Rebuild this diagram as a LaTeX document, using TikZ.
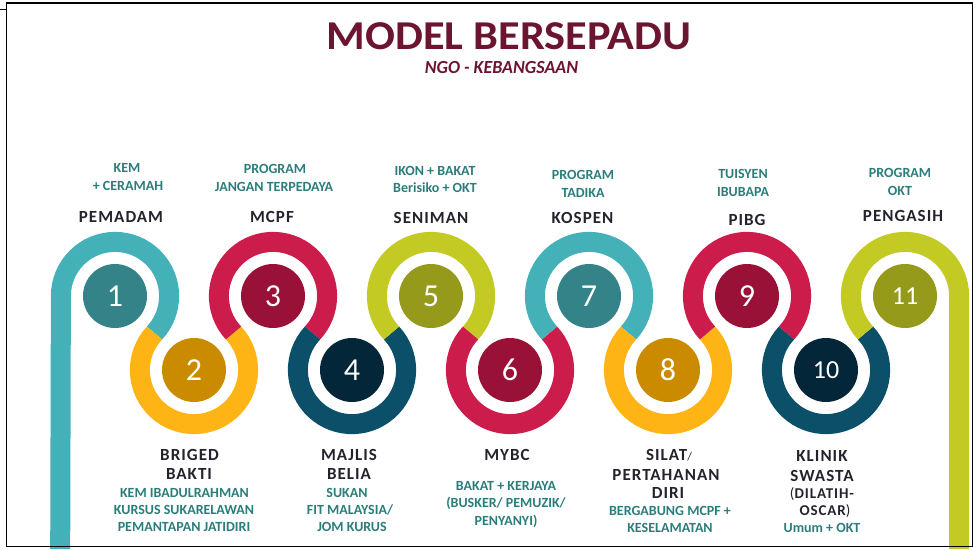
\documentclass[tikz,border=0pt]{standalone}
\usepackage{fontspec}
\setmainfont{Carlito}
\newfontfamily\hdfont[LetterSpace=6]{Carlito}
\definecolor{ringT}{HTML}{44B1B8}
\definecolor{ringY}{HTML}{FDB414}
\definecolor{ringC}{HTML}{CC1C4C}
\definecolor{ringN}{HTML}{0B4F68}
\definecolor{ringL}{HTML}{C2CA23}
\definecolor{dotT}{HTML}{338388}
\definecolor{dotY}{HTML}{CB8B00}
\definecolor{dotC}{HTML}{991137}
\definecolor{dotN}{HTML}{032638}
\definecolor{dotL}{HTML}{959A1B}
\definecolor{smtxt}{HTML}{2A7D7B}
\definecolor{hdtxt}{HTML}{23232D}
\definecolor{titlec}{HTML}{6B1530}
\begin{document}
\begin{tikzpicture}[x=1pt,y=1pt,
  ring/.style={line width=20pt,line cap=butt},
  dot/.style={circle,minimum size=64pt,inner sep=0pt,text=white,font=\fontsize{32}{32}\selectfont},
  dotsm/.style={dot,font=\fontsize{26}{26}\selectfont},
  sm/.style={anchor=base,inner sep=0pt,text=smtxt,font=\fontsize{14}{16}\selectfont\bfseries},
  hd/.style={anchor=base,inner sep=0pt,text=hdtxt,font=\hdfont\fontsize{17}{20}\selectfont\bfseries},
  hdsm/.style={anchor=base,inner sep=0pt,text=hdtxt,font=\hdfont\fontsize{15}{18}\selectfont\bfseries},
  frame/.style={line width=1.5pt,black}]
\useasboundingbox (0,0) rectangle (973,-549);
% title
\node[anchor=base,inner sep=0pt,text=titlec,font=\fontsize{41}{44}\selectfont\bfseries] (title) at (509,-49) {\scalebox{1.08}[1]{MODEL BERSEPADU}};
\node[anchor=base,inner sep=0pt,text=titlec,font=\fontsize{18.5}{22}\selectfont\bfseries\itshape] (subtitle) at (501.5,-73) {\scalebox{0.97}[1]{NGO - KEBANGSAAN}};
% centres
\foreach \k in {1,3,5,7,9,11}{\coordinate (c\k) at ({115+79*(\k-1)},-296);}
\foreach \k in {2,4,6,8,10}{\coordinate (c\k) at ({115+79*(\k-1)},-370);}
\def\R{54.12pt}
\def\t{43.13}
\coordinate (startL) at (60.2,-549);
\coordinate (endR) at (959.12,-549);
% rings
\draw[ring,ringT] (startL) -- ([shift={(180:\R)}]c1) arc[start angle=180,end angle=-\t,radius=\R];
\draw[ring,ringY] ([shift={(180-\t:\R)}]c2) arc[start angle=180-\t,end angle=360+\t,radius=\R];
\draw[ring,ringC] ([shift={(180+\t:\R)}]c3) arc[start angle=180+\t,end angle=-\t,radius=\R];
\draw[ring,ringN] ([shift={(180-\t:\R)}]c4) arc[start angle=180-\t,end angle=360+\t,radius=\R];
\draw[ring,ringL] ([shift={(180+\t:\R)}]c5) arc[start angle=180+\t,end angle=-\t,radius=\R];
\draw[ring,ringC] ([shift={(180-\t:\R)}]c6) arc[start angle=180-\t,end angle=360+\t,radius=\R];
\draw[ring,ringT] ([shift={(180+\t:\R)}]c7) arc[start angle=180+\t,end angle=-\t,radius=\R];
\draw[ring,ringY] ([shift={(180-\t:\R)}]c8) arc[start angle=180-\t,end angle=360+\t,radius=\R];
\draw[ring,ringC] ([shift={(180+\t:\R)}]c9) arc[start angle=180+\t,end angle=-\t,radius=\R];
\draw[ring,ringN] ([shift={(180-\t:\R)}]c10) arc[start angle=180-\t,end angle=360+\t,radius=\R];
\draw[ring,ringL] ([shift={(180+\t:\R)}]c11) arc[start angle=180+\t,end angle=0,radius=\R] -- (endR);
% dots
\node[dot,fill=dotT] (n1) at (c1) {1};
\node[dot,fill=dotY] (n2) at (c2) {2};
\node[dot,fill=dotC] (n3) at (c3) {3};
\node[dot,fill=dotN] (n4) at (c4) {4};
\node[dot,fill=dotL] (n5) at (c5) {5};
\node[dot,fill=dotC] (n6) at (c6) {6};
\node[dot,fill=dotT] (n7) at (c7) {7};
\node[dot,fill=dotY] (n8) at (c8) {8};
\node[dot,fill=dotC] (n9) at (c9) {9};
\node[dotsm,fill=dotN] (n10) at (c10) {10};
\node[dotsm,fill=dotL] (n11) at (c11) {11};
% top labels
\node[sm] (t1a) at (127,-172.5) {KEM};
\node[sm] (t1b) at (128,-190) {+ CERAMAH};
\node[hd] (h1) at (121,-222) {PEMADAM};
\node[sm] (t3a) at (275,-173.5) {PROGRAM};
\node[sm] (t3b) at (274,-191) {JANGAN TERPEDAYA};
\node[hd] (h3) at (272,-222) {MCPF};
\node[sm] (t5a) at (435,-175) {IKON + BAKAT};
\node[sm] (t5b) at (435,-192.5) {Berisiko + OKT};
\node[hd] (h5) at (431,-223.5) {SENIMAN};
\node[sm] (t7a) at (583,-179.5) {PROGRAM};
\node[sm] (t7b) at (583,-197) {TADIKA};
\node[hd] (h7) at (582.5,-223.5) {KOSPEN};
\node[sm] (t9a) at (743,-178.5) {TUISYEN};
\node[sm] (t9b) at (743,-196) {IBUBAPA};
\node[hd] (h9) at (747,-225) {PIBG};
\node[sm] (t11a) at (900,-177.5) {PROGRAM};
\node[sm] (t11b) at (900,-195) {OKT};
\node[hd] (h11) at (903,-221.5) {PENGASIH};
% bottom labels
\node[hd] (h2a) at (189.5,-460) {BRIGED};
\node[hd] (h2b) at (189,-479) {BAKTI};
\node[sm] (b2a) at (184.5,-497) {KEM IBADULRAHMAN};
\node[sm] (b2b) at (184,-514) {KURSUS SUKARELAWAN};
\node[sm] (b2c) at (184,-531) {PEMANTAPAN JATIDIRI};
\node[hd] (h4a) at (349,-460) {MAJLIS};
\node[hd] (h4b) at (349,-479) {BELIA};
\node[sm] (b4a) at (347,-497) {SUKAN};
\node[sm] (b4b) at (350,-514) {FIT MALAYSIA/};
\node[sm] (b4c) at (352,-531) {JOM KURUS};
\node[hd] (h6a) at (507,-460) {MYBC};
\node[sm] (b6a) at (506,-490.5) {BAKAT + KERJAYA};
\node[sm] (b6b) at (506,-507.5) {(BUSKER/ PEMUZIK/};
\node[sm] (b6c) at (506,-525) {PENYANYI)};
\node[hd] (h8a) at (669,-460) {SILAT{\mdseries\fontsize{12}{12}\selectfont/}};
\node[hd] (h8b) at (666,-480) {PERTAHANAN};
\node[hd] (h8c) at (668,-498.5) {DIRI};
\node[sm] (b8a) at (670,-515) {BERGABUNG MCPF +};
\node[sm] (b8b) at (670,-532) {KESELAMATAN};
\node[hd] (h10a) at (822,-461) {KLINIK};
\node[hd] (h10b) at (822,-481) {SWASTA};
\node[hdsm] (h10c) at (822,-498) {{\mdseries(}DILATIH-};
\node[hdsm] (h10d) at (825,-515) {OSCAR{\mdseries)}};
\node[sm] (b10a) at (822,-532.5) {Umum + OKT};
% frame (drawn last, over the track ends)
\coordinate (fa) at (6.5,-3);
\coordinate (fb) at (972.5,-3);
\coordinate (fc) at (972.5,-546.5);
\coordinate (fd) at (6.5,-546.5);
\coordinate (fe) at (0,-9.5);
\coordinate (ff) at (6.5,-9.5);
\draw[frame] (fb) -- (fa) -- (fd) -- (fc) -- cycle;
\draw[frame] (fe) -- (ff);
\end{tikzpicture}
\end{document}
